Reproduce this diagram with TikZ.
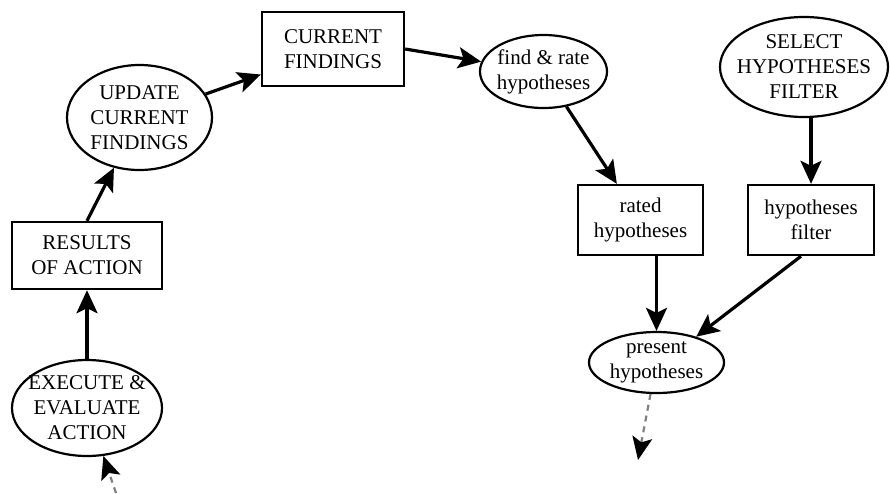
\documentclass[tikz,border=0pt]{standalone}
\usepackage{fontspec}
\setmainfont{Liberation Serif}
\usetikzlibrary{arrows.meta,shapes.geometric}
\begin{document}
\begin{tikzpicture}[x=1pt,y=-1pt,
  every node/.style={font=\fontsize{21}{25}\selectfont},
  lbl/.style={align=center,inner sep=0pt},
  boxnode/.style={draw,line width=2.4pt,rectangle,inner sep=0pt,align=center},
  oval/.style={draw,line width=2.2pt,ellipse,inner sep=0pt},
  flow/.style={line width=3.2pt,-{Stealth[length=23pt,width=21pt,inset=5pt]}},
  loose/.style={line width=2.2pt,gray,dash pattern=on 6pt off 5pt,
    -{Stealth[length=23pt,width=20pt,inset=5pt,color=black]}}]
\useasboundingbox (0,0) rectangle (890,493);

% activities (ovals) and data (boxes)
\node[boxnode,minimum width=142pt,minimum height=74pt] (curf) at (333,49) {CURRENT\\FINDINGS};
\node[oval,minimum width=145pt,minimum height=105pt,
      label={[lbl]center:UPDATE\\CURRENT\\FINDINGS}] (upd) at (139.5,117.5) {};
\node[boxnode,minimum width=150pt,minimum height=67pt] (res) at (87,255.5) {RESULTS\\OF ACTION};
\node[oval,minimum width=150pt,minimum height=96pt,
      label={[lbl]center:EXECUTE \&\\EVALUATE\\ACTION}] (exe) at (87,408) {};
\node[oval,minimum width=127pt,minimum height=73pt,
      label={[lbl]center:find \& rate\\hypotheses}] (find) at (543.5,71.5) {};
\node[oval,minimum width=168pt,minimum height=100pt,
      label={[lbl]center:SELECT\\HYPOTHESES\\FILTER}] (sel) at (804,67) {};
\node[boxnode,minimum width=125pt,minimum height=70pt] (rated) at (640.5,220) {rated\\hypotheses};
\node[boxnode,minimum width=126pt,minimum height=70pt] (filt) at (811,220) {hypotheses\\filter};
\node[oval,minimum width=135pt,minimum height=61pt,
      label={[lbl]center:present\\hypotheses}] (pres) at (656.5,362.5) {};

% loose ends of the cycle
\coordinate (din) at (116,493);
\coordinate (dout) at (638,460);

% connectors
\draw[loose] (din) -- (exe);
\draw[flow] (exe) -- (res);
\draw[flow] (res.north) -- (upd);
\draw[flow] (upd) -- (curf);
\draw[flow] (curf.east) -- (find.171);
\draw[flow] (find) -- (rated);
\draw[flow] (filt.north |- sel.south) -- (filt.north);
\draw[flow] (pres.north |- rated.south) -- (pres.north);
\draw[flow] ([xshift=-10pt]filt.south) -- (pres.33);
\draw[loose] (pres) -- (dout);
\end{tikzpicture}
\end{document}
